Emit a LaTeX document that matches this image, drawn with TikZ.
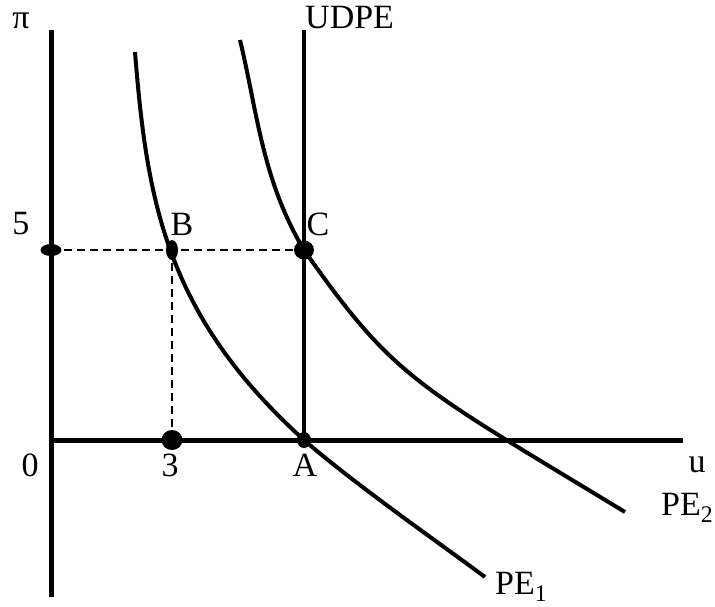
\documentclass[tikz,border=0pt]{standalone}
\usepackage{fontspec}
\setmainfont{Liberation Serif}
\usepackage{tikz}
\usetikzlibrary{shapes.geometric,positioning}
\tikzset{
    axis/.style={draw, line width=5pt},
    curve/.style={draw, line width=4pt},
    guide/.style={draw, line width=2pt, dash pattern=on 8pt off 5pt},
    dot/.style={ellipse, fill=black, inner sep=0pt},
    lbl/.style={inner sep=0pt, font=\fontsize{34}{40}\selectfont}
}

\begin{document}
\begin{tikzpicture}[x=1pt, y=-1pt]
    \useasboundingbox (0,0) rectangle (715,606);

    % Points
    \coordinate (O) at (51,440);
    \coordinate (ytop) at (51,30);
    \coordinate (ybot) at (51,597);
    \coordinate (xend) at (683,440);
    \coordinate (udtop) at (304,30);
    \coordinate (y5) at (51,250);
    \coordinate (B) at (172,250);
    \coordinate (C) at (304,250);
    \coordinate (x3) at (172,440);
    \coordinate (A) at (304,440);
    \coordinate (pe1a) at (135,52);
    \coordinate (pe1b) at (485,577);
    \coordinate (pe2a) at (240,40);
    \coordinate (pe2b) at (625,512);

    % axes
    \draw[axis] (ytop) -- (ybot);
    \draw[axis] (O) -- (xend);
    \draw[axis, line width=4.5pt] (udtop) -- (A);

    % dashed guides
    \draw[guide] (y5) -- (C);
    \draw[guide] (B) -- (x3);

    % curves
    \draw[curve] (pe1a) .. controls (147,202) and (166,315) .. (A)
                        .. controls (356,485) and (431,537) .. (pe1b);
    \draw[curve] (pe2a) .. controls (257,110) and (262,180) .. (C)
                        .. controls (394,378) and (414,384) .. (pe2b);

    % Nodes
    \node[dot, minimum width=21pt, minimum height=12pt] (d5) at (y5) {};
    \node[dot, minimum width=12pt, minimum height=20pt] (dB) at (B) {};
    \node[dot, minimum width=20pt, minimum height=19pt] (dC) at (C) {};
    \node[dot, minimum width=21pt, minimum height=20pt] (d3) at (x3) {};
    \node[dot, minimum width=14pt, minimum height=16pt] (dA) at (A) {};

    % labels
    \node[lbl] (lpi) at (21,21) {π};
    \node[lbl, anchor=west] (lud) at (305,18) {UDPE};
    \node[lbl] (l5) at (21,224) {5};
    \node[lbl] (lB) at (182,224) {B};
    \node[lbl] (lC) at (318,224) {C};
    \node[lbl] (l0) at (30,465) {0};
    \node[lbl] (l3) at (170,465) {3};
    \node[lbl] (lA) at (305,465) {A};
    \node[lbl] (lu) at (697,465) {u};
    \node[lbl, anchor=west] (lpe2) at (661,508) {PE\textsubscript{2}};
    \node[lbl, anchor=west] (lpe1) at (495,587) {PE\textsubscript{1}};
\end{tikzpicture}
\end{document}
